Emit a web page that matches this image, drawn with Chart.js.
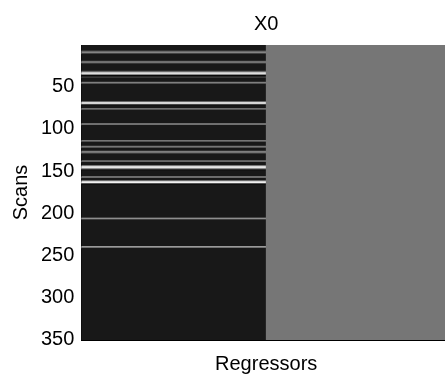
<!DOCTYPE html>
<html>
<head>
<meta charset="utf-8">
<script src="https://cdn.jsdelivr.net/npm/chart.js@4"></script>
<style>
  html, body { margin: 0; padding: 0; background: #fff; overflow: hidden; }
  #wrap { position: relative; width: 451px; height: 376px; }
</style>
</head>
<body>
<div id="wrap"><canvas id="designChart"></canvas></div>
<script>
// Design matrix X0: 350 scans x 2 regressors
const scanCount = 350;
const regressorColumns = [1, 2];
const yTickValues = [50, 100, 150, 200, 250, 300, 350];

// Regressor 1: non-zero scans (rest are 0)
const spikeScans = [8, 9, 10, 11, 20, 21, 22, 32, 33, 34, 35, 36, 37, 39, 45, 46,
  68, 69, 70, 71, 72, 76, 77, 94, 95, 114, 115, 121, 122, 127, 128, 129, 138, 139,
  144, 145, 146, 147, 148, 149, 157, 158, 162, 163, 164, 165, 166, 206, 207, 240, 241];
const spikeValues = [0.25, 0.5, 0.5, 0.2, 0.3, 0.5, 0.4, 0.3, 0.6, 1.0, 0.9, 0.4, -0.1, 0.3, 0.4, 0.55,
  0.4, 0.85, 1.0, 0.5, -0.1, 0.35, 0.55, 0.4, 0.55, 0.4, 0.55, 0.4, 0.55, 0.45, 0.55, 0.3, 0.35, 0.5,
  0.5, 0.9, 1.0, 0.8, 0.3, -0.1, 0.45, 0.5, 0.5, 0.95, 1.0, 0.4, -0.1, 0.4, 0.6, 0.6, 0.55];

// Regressor 2: constant term
const constantValue = 0.435;

// Grey map used for the image
function grey(v) {
  let g = Math.round(24 + v * 216);
  if (v < 0) g = Math.round(24 + v * 200);
  g = Math.max(0, Math.min(255, g));
  return 'rgb(' + g + ',' + g + ',' + g + ')';
}

// Build full column 1 and run-length encode it into floating segments
const column1 = new Array(scanCount).fill(0);
spikeScans.forEach((s, i) => { column1[s - 1] = spikeValues[i]; });

const segments = [];
const colors = [];
let start = 1;
for (let s = 2; s <= scanCount + 1; s++) {
  if (s > scanCount || column1[s - 1] !== column1[start - 1]) {
    segments.push({ x: regressorColumns[0], y: [start - 0.5, s - 0.5] });
    colors.push(grey(column1[start - 1]));
    start = s;
  }
}
segments.push({ x: regressorColumns[1], y: [0.5, scanCount + 0.5] });
colors.push(grey(constantValue));

const font = { family: "'Liberation Sans', Arial, sans-serif", size: 20, weight: 'normal' };
const yTop = 0.5;

const ctx = document.getElementById('designChart').getContext('2d');
new Chart(ctx, {
  type: 'bar',
  data: {
    datasets: [{
      data: segments,
      backgroundColor: colors,
      borderWidth: 0,
      grouped: false,
      barPercentage: 1,
      categoryPercentage: 1
    }]
  },
  options: {
    responsive: true,
    maintainAspectRatio: false,
    animation: false,
    layout: { padding: { left: 0, right: 0, top: 0, bottom: 0 } },
    plugins: {
      legend: { display: false },
      tooltip: { enabled: false },
      title: {
        display: true,
        text: 'X0',
        color: '#000',
        font: font,
        fullSize: false,
        padding: { top: 12, bottom: 9 }
      }
    },
    scales: {
      x: {
        type: 'linear',
        offset: false,
        min: 0.5,
        max: 2.5,
        afterBuildTicks: function(scale) {
          scale.ticks = regressorColumns.map(v => ({ value: v }));
        },
        ticks: { display: false },
        grid: { display: false, drawTicks: false, offset: false },
        border: { display: true, color: '#000', width: 1 },
        title: { display: true, text: 'Regressors', color: '#000', font: font, padding: { top: 12, bottom: 0 } }
      },
      y: {
        type: 'linear',
        reverse: true,
        min: 0.5,
        max: scanCount + 0.5,
        z: 1,
        afterBuildTicks: function(scale) {
          scale.ticks = [yTop].concat(yTickValues).map(v => ({ value: v }));
        },
        ticks: {
          color: '#000',
          font: font,
          padding: 7,
          callback: function(value) { return value === yTop ? '' : value; }
        },
        grid: {
          display: true,
          drawTicks: false,
          lineWidth: 1,
          color: function(c) { return c.tick && c.tick.value === yTop ? '#000' : 'rgba(0,0,0,0)'; }
        },
        border: { display: true, color: '#000', width: 1 },
        title: { display: true, text: 'Scans', color: '#000', font: font, padding: { top: 9, bottom: 1 } }
      }
    }
  }
});
</script>
</body>
</html>
